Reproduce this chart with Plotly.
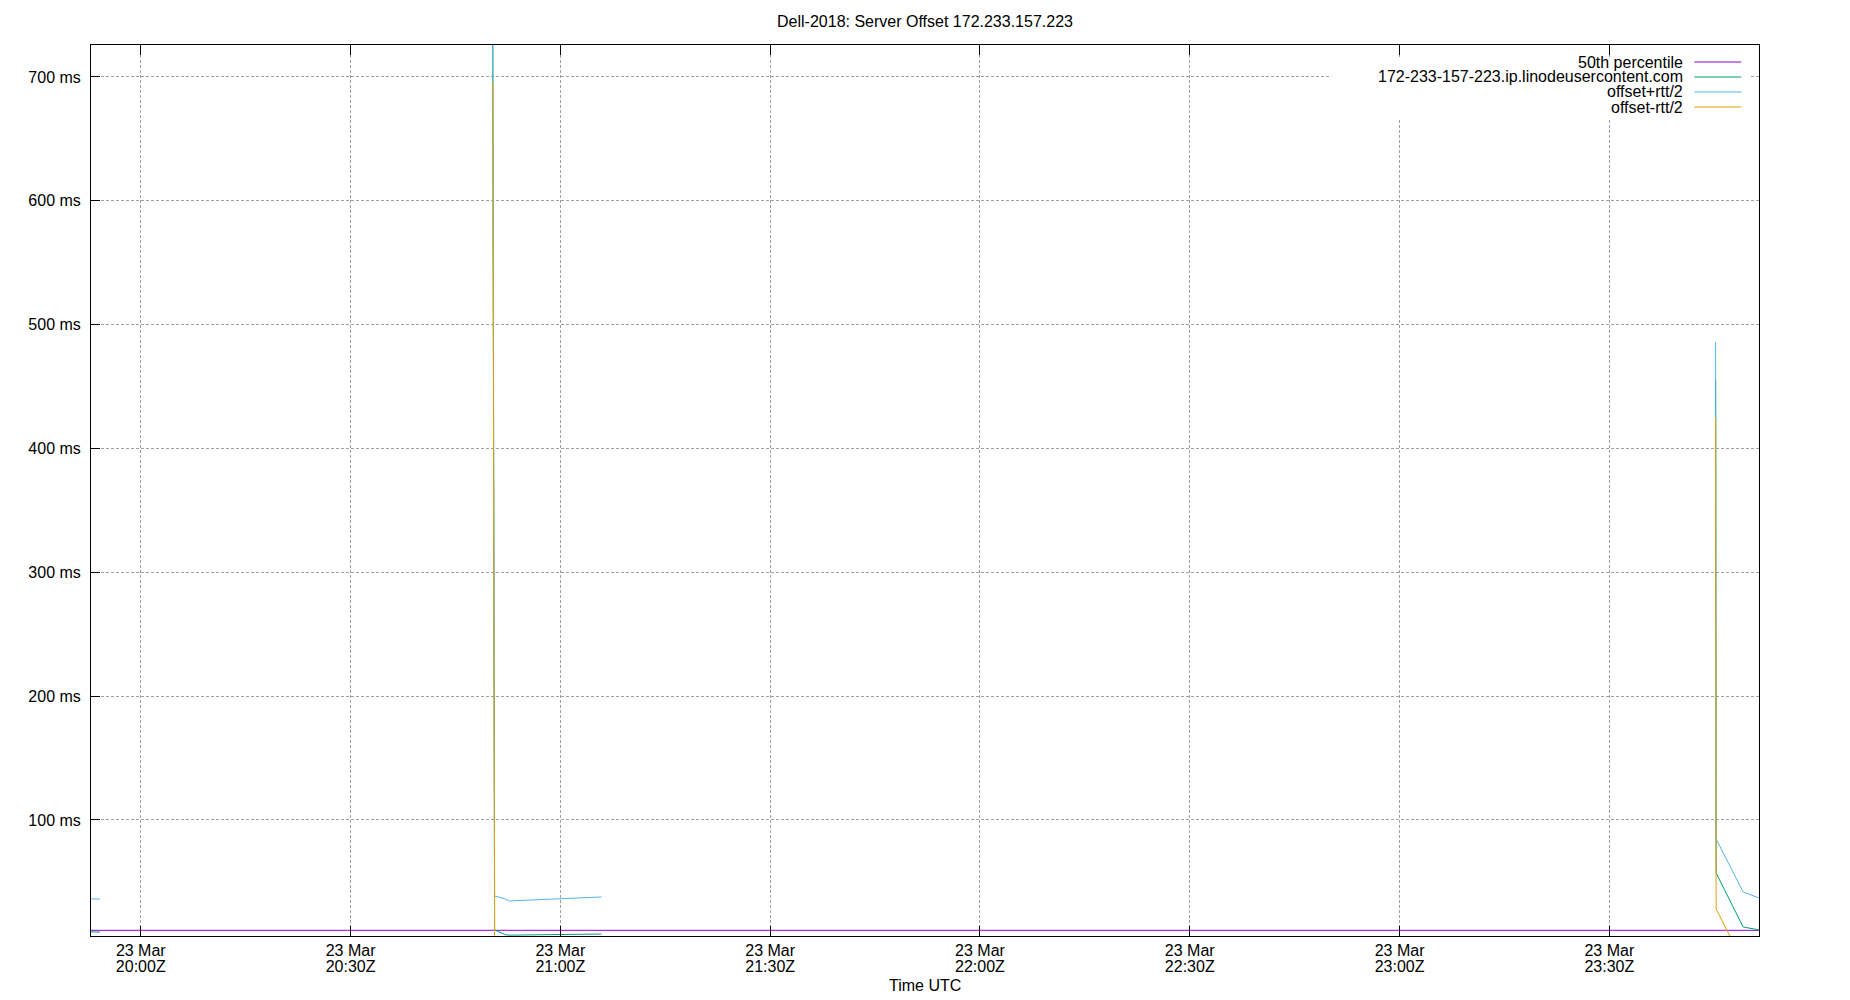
import plotly.graph_objects as go

# sample times (None rows break the lines like gnuplot's missing data)
times = ["2025-03-23 19:52:53", "2025-03-23 19:54:11", "2025-03-23 20:20:00",
         "2025-03-23 20:50:20", "2025-03-23 20:50:36", "2025-03-23 20:52:08",
         "2025-03-23 20:52:41", "2025-03-23 21:05:53", "2025-03-23 22:30:00",
         "2025-03-23 23:45:12", "2025-03-23 23:45:16", "2025-03-23 23:49:08",
         "2025-03-23 23:51:24"]
offset = [9.7, 9.5, None, 728, 11.2, 7.3, 7.0, 7.9, None, 455.5, 57.2, 13.6, 11.2]
offset_plus = [36.3, 36.1, None, 760, 38.6, 36.2, 34.6, 37.8, None, 486, 84.7, 41.9, 37.0]
offset_minus = [-17, -17, None, 696, -16.2, -21.6, -20.6, -22, None, 425, 28.1, -14.7, -14.6]

median_times = ["2025-03-23 19:52:53", "2025-03-23 23:51:24"]
median_vals = [10.9, 10.9]

tick_times = ["2025-03-23 20:00", "2025-03-23 20:30", "2025-03-23 21:00", "2025-03-23 21:30",
              "2025-03-23 22:00", "2025-03-23 22:30", "2025-03-23 23:00", "2025-03-23 23:30"]
tick_dates = ["23 Mar"] * 8
tick_clock = ["20:00Z", "20:30Z", "21:00Z", "21:30Z", "22:00Z", "22:30Z", "23:00Z", "23:30Z"]

names = ["50th percentile", "172-233-157-223.ip.linodeusercontent.com",
         "offset+rtt/2", "offset-rtt/2"]
colors = ["#9400d3", "#009e73", "#56b4e9", "#e69f00"]

FONT = "Liberation Sans, Arial, sans-serif"
x_range = ["2025-03-23 19:52:53", "2025-03-23 23:51:24"]

fig = go.Figure()
fig.add_trace(go.Scatter(x=median_times, y=median_vals, mode="lines",
                         line=dict(color=colors[0], width=1), name=names[0]))
fig.add_trace(go.Scatter(x=times, y=offset, mode="lines", connectgaps=False,
                         line=dict(color=colors[1], width=1), name=names[1]))
fig.add_trace(go.Scatter(x=times, y=offset_plus, mode="lines", connectgaps=False,
                         line=dict(color=colors[2], width=1), name=names[2]))
fig.add_trace(go.Scatter(x=times, y=offset_minus, mode="lines", connectgaps=False,
                         line=dict(color=colors[3], width=1), name=names[3]))
# empty trace so the second (clock label) x axis gets drawn
fig.add_trace(go.Scatter(x=median_times, y=[None, None], xaxis="x2", mode="lines",
                         hoverinfo="skip", showlegend=False))

# gnuplot style key: right-aligned text, sample line on the right, opaque box
shapes = [dict(type="rect", xref="paper", yref="paper", x0=0.7435, x1=0.9946,
               y0=0.917, y1=0.9865, fillcolor="white", line=dict(width=0),
               layer="above")]
annotations = []
key_rows = [0.9809, 0.9641, 0.9473, 0.9304]
for name, color, ky in zip(names, colors, key_rows):
    annotations.append(dict(text=name, xref="paper", yref="paper", x=0.9557, y=ky,
                            xanchor="right", yanchor="middle", showarrow=False,
                            font=dict(family=FONT, size=16, color="black")))
    shapes.append(dict(type="line", xref="paper", yref="paper", x0=0.9612, x1=0.9894,
                       y0=ky, y1=ky, line=dict(color=color, width=1), layer="above"))
annotations.append(dict(text="Time UTC", xref="paper", yref="paper", x=0.5, y=-0.0561,
                        xanchor="center", yanchor="middle", showarrow=False,
                        font=dict(family=FONT, size=16, color="black")))

grid = dict(showgrid=True, gridcolor="#a0a0a0", griddash="3px,2px", gridwidth=1)

# margins allow for the 8px page margin round the plot div
fig.update_layout(
    width=1850, height=1000,
    margin=dict(l=82.5, r=99, t=37, b=72),
    paper_bgcolor="white", plot_bgcolor="white",
    font=dict(family=FONT, size=16, color="black"),
    title=dict(text="Dell-2018: Server Offset 172.233.157.223", x=0.5, xref="paper",
               y=0.987, yanchor="middle", font=dict(size=16)),
    showlegend=False,
    shapes=shapes, annotations=annotations,
    xaxis=dict(type="date", range=x_range,
               tickvals=tick_times, ticktext=tick_dates,
               ticks="inside", ticklen=10, tickcolor="black",
               showline=True, linecolor="black", linewidth=1, mirror="ticks",
               zeroline=False, automargin=False, **grid),
    xaxis2=dict(overlaying="x", anchor="y", side="bottom", type="date", range=x_range,
                tickvals=tick_times, ticktext=tick_clock, ticks="", showgrid=False,
                showline=False, zeroline=False, ticklabelstandoff=19, automargin=False),
    yaxis=dict(range=[6.3, 725.8], tick0=0, dtick=100, ticksuffix=" ms",
               ticks="inside", ticklen=9, tickcolor="black", ticklabelstandoff=6,
               showline=True, linecolor="black", linewidth=1, mirror=True,
               zeroline=False, automargin=False, **grid),
)

fig.write_html("out.html")
